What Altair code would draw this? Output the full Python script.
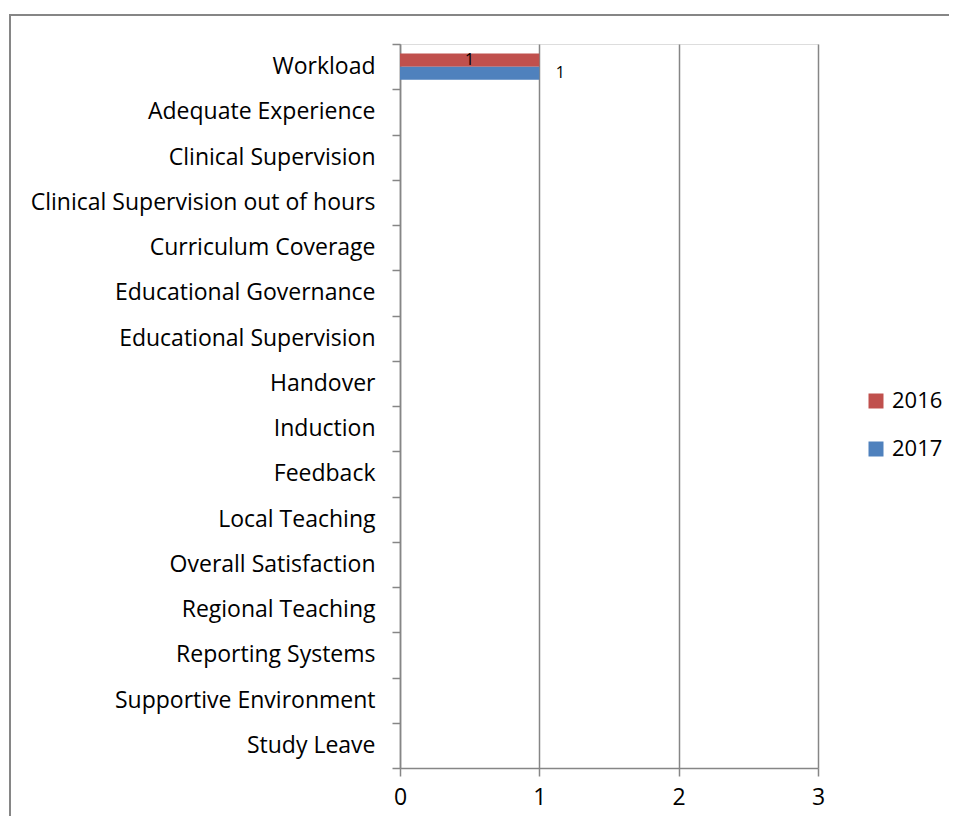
import altair as alt
import pandas as pd

categories = [
    "Workload", "Adequate Experience", "Clinical Supervision ",
    "Clinical Supervision out of hours", "Curriculum Coverage",
    "Educational Governance", "Educational Supervision", "Handover",
    "Induction", "Feedback", "Local Teaching", "Overall Satisfaction",
    "Regional Teaching", "Reporting Systems", "Supportive Environment",
    "Study Leave",
]
years = ["2016", "2017"]
values_2016 = [1, 0, 0, 0, 0, 0, 0, 0, 0, 0, 0, 0, 0, 0, 0, 0]
values_2017 = [1, 0, 0, 0, 0, 0, 0, 0, 0, 0, 0, 0, 0, 0, 0, 0]
x_ticks = [0, 1, 2, 3]
colors = ["#C0504D", "#4F81BD"]

rows = []
for c, a, b in zip(categories, values_2016, values_2017):
    rows.append({"category": c, "year": "2016", "value": a})
    rows.append({"category": c, "year": "2017", "value": b})
df = pd.DataFrame(rows)

GRAY = "#868686"
FONT = "Open Sans"

y_enc = alt.Y(
    "category:N", sort=categories,
    scale=alt.Scale(paddingInner=0, paddingOuter=0),
    axis=alt.Axis(title=None, tickBand="extent", grid=False, domainColor=GRAY,
                  domainWidth=1.5, tickColor=GRAY, tickWidth=1.5, tickSize=8,
                  labelFont=FONT, labelFontSize=23, labelColor="#000000",
                  labelPadding=17, labelLimit=500),
)
yoff = alt.YOffset("year:N", sort=years,
                   scale=alt.Scale(paddingInner=0, paddingOuter=0.74))
x_enc = alt.X(
    "value:Q", scale=alt.Scale(domain=[0, 3], nice=False),
    axis=alt.Axis(title=None, values=x_ticks, format="d", grid=True,
                  gridColor=GRAY, gridWidth=1.5, domainColor=GRAY,
                  domainWidth=1.5, tickColor=GRAY, tickWidth=1.5, tickSize=8,
                  labelFont=FONT, labelFontSize=23, labelColor="#000000",
                  labelPadding=10, labelFlush=False),
)

base = alt.Chart(df)

bars = base.mark_bar().encode(
    x=x_enc, y=y_enc, yOffset=yoff,
    color=alt.Color("year:N", sort=years,
                    scale=alt.Scale(domain=years, range=colors),
                    legend=alt.Legend(title=None, orient="none", legendX=465,
                                      legendY=346, symbolType="square",
                                      symbolSize=225, symbolStrokeWidth=0,
                                      labelFont=FONT, labelFontSize=22,
                                      labelColor="#000000", labelOffset=5,
                                      rowPadding=26, padding=0)),
)

lab16 = base.transform_filter(
    (alt.datum.year == "2016") & (alt.datum.value > 0)
).transform_calculate(mid="datum.value / 2").mark_text(
    font=FONT, fontSize=16, color="#000000", baseline="middle", align="center"
).encode(x=alt.X("mid:Q"), y=alt.Y("category:N", sort=categories),
         yOffset=yoff, text=alt.Text("value:Q", format="d"))

lab17 = base.transform_filter(
    (alt.datum.year == "2017") & (alt.datum.value > 0)
).mark_text(
    font=FONT, fontSize=16, color="#000000", baseline="middle", align="center", dx=21
).encode(x=alt.X("value:Q"), y=alt.Y("category:N", sort=categories),
         yOffset=yoff, text=alt.Text("value:Q", format="d"))

frame_left = base.mark_rule(color=GRAY, strokeWidth=2).encode(
    x=alt.value(-390), y=alt.value(-29), y2=alt.value(820))
frame_top = base.mark_rule(color=GRAY, strokeWidth=2).encode(
    x=alt.value(-391), x2=alt.value(600), y=alt.value(-29))

chart = alt.layer(bars, lab16, lab17, frame_left, frame_top).properties(
    width=418, height=724, autosize="none",
    padding={"left": 392, "top": 36, "right": 131, "bottom": 48},
).configure_view(stroke=None).configure(background="#FFFFFF")

chart.save("out.html", embed_options={"renderer": "svg", "actions": False})
